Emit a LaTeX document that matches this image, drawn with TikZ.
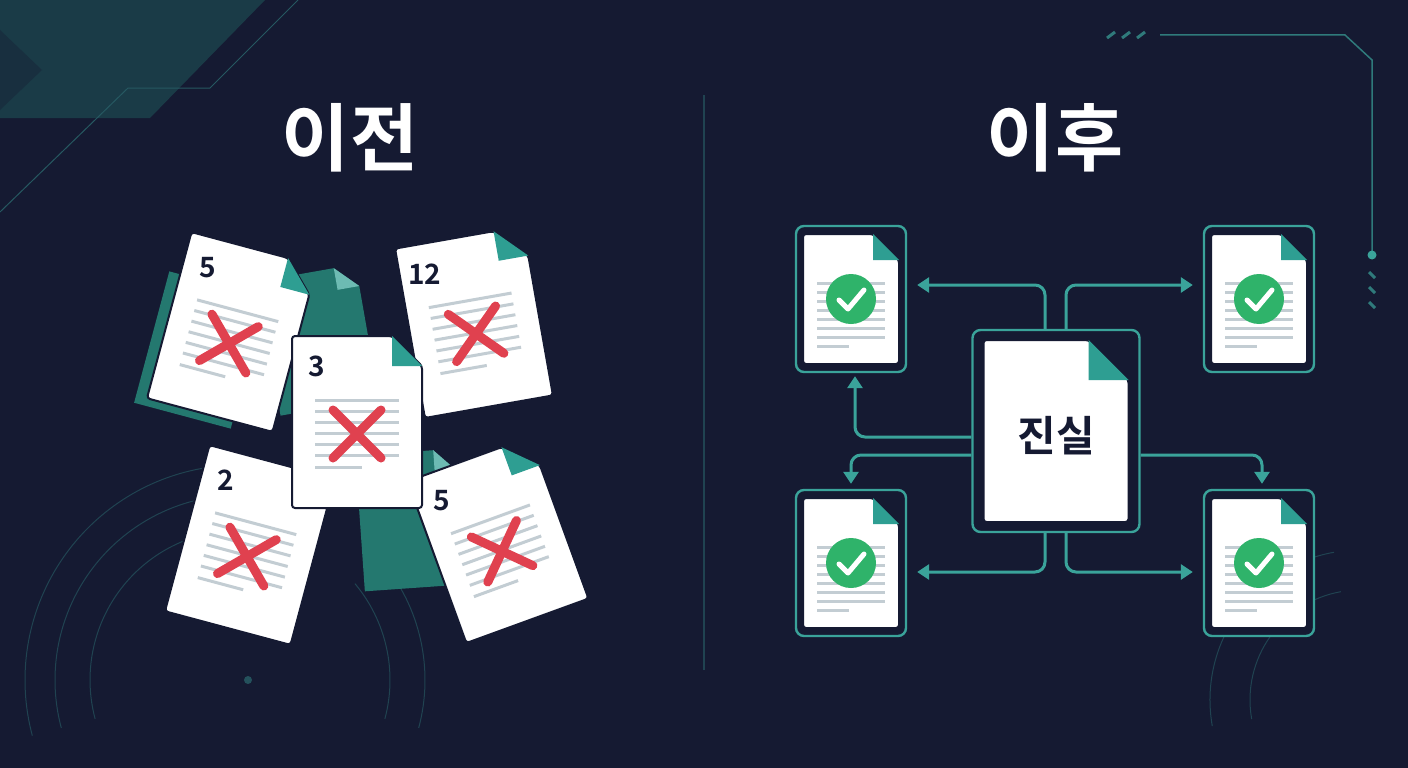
\documentclass[tikz,border=0pt]{standalone}
\usepackage{fontspec}
\newfontfamily\krfont{Noto Sans CJK KR Bold}
\setmainfont{Noto Sans}
\usetikzlibrary{arrows.meta,positioning}

\definecolor{bgnavy}{HTML}{151A32}
\definecolor{tealline}{HTML}{3AA39A}
\definecolor{tealfold}{HTML}{2E9E92}
\definecolor{tealback}{HTML}{24786F}
\definecolor{xred}{HTML}{E0414F}
\definecolor{okgreen}{HTML}{2FB36A}
\definecolor{txtline}{HTML}{C3CDD3}
\definecolor{inkdark}{HTML}{151A32}

\tikzset{
  framebox/.style={draw=tealline, line width=2.4pt, rounded corners=8pt, fill=bgnavy},
  conn/.style={draw=tealline, line width=3pt, rounded corners=10pt,
    -{Triangle[length=12pt,width=15pt]}},
  paper/.style={fill=white, draw=inkdark, line width=2pt, rounded corners=3pt},
  textrule/.style={txtline, line width=3pt},
  redx/.style={xred, line width=9pt, line cap=round},
}

% paper sheet: width, height, fold size (centred at origin)
\newcommand\sheet[3]{%
  \draw[paper] (-#1/2,-#2/2) -- (#1/2-#3,-#2/2) -- (#1/2,-#2/2+#3) -- (#1/2,#2/2) -- (-#1/2,#2/2) -- cycle;
  \fill[tealfold] (#1/2-#3,-#2/2) -- (#1/2-#3,-#2/2+#3) -- (#1/2,-#2/2+#3) -- cycle;}

% crossed-out document: position, angle, number
\newcommand\wrongdoc[3]{%
  \begin{scope}[shift={#1}, rotate=#2]
    \sheet{130}{172}{30}
    \foreach \yy in {-22,-11,0,11,22,33} \draw[textrule] (-42,\yy) -- (42,\yy);
    \draw[textrule] (-42,45) -- (5,45);
    \node[font=\krfont\fontsize{28}{28}\selectfont, text=inkdark] at (-40,-56) {#3};
    \draw[redx] (-24,-12) -- (24,36) (24,-12) -- (-24,36);
  \end{scope}}

\newcommand\backdoc[2]{%
  \begin{scope}[shift={#1}, rotate=#2]
    \fill[tealback] (-50,-68) -- (28,-68) -- (50,-46) -- (50,68) -- (-50,68) -- cycle;
    \fill[tealfold!70!white] (28,-68) -- (28,-46) -- (50,-46) -- cycle;
  \end{scope}}

% checked document inside a frame node
\newcommand\okdoc[2]{%
  \node[framebox, minimum width=110pt, minimum height=146pt] (#1) at #2 {};
  \begin{scope}[shift={(#1.center)}]
    \sheet{96}{130}{26}
    \foreach \yy in {-16,-7,2,11,20,29,38} \draw[textrule] (-34,\yy) -- (34,\yy);
    \draw[textrule] (-34,47) -- (-2,47);
    \fill[okgreen] (0,0) circle (25);
    \draw[white, line width=5pt, line cap=round, line join=round] (-12,1) -- (-3,10) -- (13,-9);
  \end{scope}}

\begin{document}
\begin{tikzpicture}[x=1pt, y=-1pt]
  \fill[bgnavy] (0,0) rectangle (1408,768);
  \useasboundingbox (0,0) rectangle (1408,768);

  % corner decorations
  \fill[tealback!35!bgnavy] (0,0) -- (265,0) -- (150,118) -- (0,118) -- cycle;
  \fill[tealback!22!bgnavy] (0,30) -- (42,70) -- (0,110) -- cycle;
  \draw[tealline!45!bgnavy, line width=1pt] (0,212) -- (128,88) -- (210,88) -- (298,0);
  \draw[tealline!70!bgnavy, line width=1.5pt] (1160,35) -- (1345,35) -- (1372,60) -- (1372,255);
  \fill[tealline] (1372,255) circle (4.5);
  \foreach \xx in {1107,1122,1137} \draw[tealline!70!bgnavy, line width=3pt] (\xx,38) -- (\xx+8,32);
  \foreach \yy in {272,287,302} \draw[tealline!70!bgnavy, line width=3pt] (1369,\yy) -- (1375,\yy+6);
  \foreach \rr in {150,185,215} \draw[tealline!30!bgnavy, line width=1pt] (240,680) ++(-100:\rr) arc[start angle=-100, end angle=-195, radius=\rr];
  \foreach \rr in {150,185} \draw[tealline!30!bgnavy, line width=1pt] (240,680) ++(-40:\rr) arc[start angle=-40, end angle=15, radius=\rr];
  \fill[tealline!40!bgnavy] (248,680) circle (4);
  \foreach \rr in {110,150} \draw[tealline!30!bgnavy, line width=1pt] (1360,700) ++(-100:\rr) arc[start angle=-100, end angle=-190, radius=\rr];

  % divider
  \draw[tealline!30!bgnavy, line width=1.5pt] (704,95) -- (704,670);

  % titles
  \node[font=\krfont\fontsize{74}{74}\selectfont, text=white] (before) at (350,138) {이전};
  \node[font=\krfont\fontsize{74}{74}\selectfont, text=white] (after) at (1055,138) {이후};

  % scattered wrong versions
  \backdoc{(200,350)}{-15}
  \backdoc{(318,340)}{10}
  \backdoc{(410,520)}{4}
  \wrongdoc{(232,332)}{-15}{5}
  \wrongdoc{(474,322)}{10}{12}
  \wrongdoc{(250,545)}{-15}{2}
  \wrongdoc{(498,540)}{20}{5}
  \wrongdoc{(357,422)}{0}{3}

  % single truth
  \node[framebox, minimum width=167pt, minimum height=202pt] (truth) at (1056,431) {};
  \begin{scope}[shift={(truth.center)}]
    \sheet{145}{182}{40}
  \end{scope}
  \node[font=\krfont\fontsize{42}{42}\selectfont, text=inkdark] (truthlabel) at (1056,436) {진실};

  \okdoc{tl}{(851,299)}
  \okdoc{tr}{(1259,299)}
  \okdoc{bl}{(851,563)}
  \okdoc{br}{(1259,563)}

  % connectors
  \draw[conn, shorten >=10pt] ([xshift=-11pt]truth.north) |- ([yshift=14pt]tl.east);
  \draw[conn, shorten >=10pt] ([xshift=10pt]truth.north) |- ([yshift=14pt]tr.west);
  \draw[conn, shorten >=10pt] ([xshift=-11pt]truth.south) |- ([yshift=-9pt]bl.east);
  \draw[conn, shorten >=10pt] ([xshift=10pt]truth.south) |- ([yshift=-9pt]br.west);
  \draw[conn, shorten >=3pt] ([yshift=-6pt]truth.west) -| ([xshift=4pt]tl.south);
  \draw[conn, shorten >=5pt] ([yshift=-24pt]truth.west) -| (bl.north);
  \draw[conn, shorten >=5pt] ([yshift=-24pt]truth.east) -| ([xshift=3pt]br.north);
\end{tikzpicture}
\end{document}
